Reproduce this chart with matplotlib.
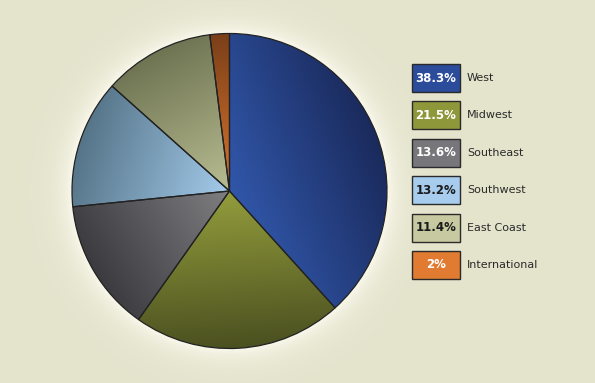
import numpy as np
import matplotlib.pyplot as plt
from matplotlib.colors import LinearSegmentedColormap, to_rgb

# data
regions = ["West", "Midwest", "Southeast", "Southwest", "East Coast", "International"]
shares = [38.3, 21.5, 13.6, 13.2, 11.4, 2.0]
share_labels = ["38.3%", "21.5%", "13.6%", "13.2%", "11.4%", "2%"]

# slice colours: light (near centre) -> dark (rim)
light = ["#3157aa", "#939d3c", "#7f7f82", "#a4cbeb", "#b9bd92", "#d9752e"]
dark = ["#1a2a5c", "#4b5020", "#3b3b40", "#557488", "#6e7452", "#7a3f18"]
box_col = ["#2b4b9b", "#8e983a", "#77777b", "#a7ccee", "#c7caa0", "#e07b31"]
box_txt = ["white", "white", "white", "#1a1a1a", "#1a1a1a", "white"]

bg = "#e4e3cc"
W, H = 595, 383
cx, cy, R = 229.5, 192.0, 157.5

fig = plt.figure(figsize=(W / 100, H / 100), dpi=100, facecolor=bg)
ax = fig.add_axes([0, 0, 1, 1])
ax.set_xlim(0, W)
ax.set_ylim(0, H)
ax.set_aspect("auto")
ax.axis("off")

# soft glow around the pie
gx, gy = np.meshgrid(np.linspace(0, W, W), np.linspace(0, H, H))
d = np.hypot(gx - cx, gy - cy) - R
glow = np.clip(np.exp(-np.clip(d, 0, None) / 14.0), 0, 1)
glow_img = np.zeros((H, W, 4))
glow_img[..., :3] = to_rgb("#fbfaee")
glow_img[..., 3] = glow * 0.95
ax.imshow(glow_img, extent=(0, W, 0, H), origin="lower", zorder=0, interpolation="bilinear")

wedges, _ = ax.pie(shares, center=(cx, cy), radius=R, startangle=90, counterclock=False,
                   wedgeprops=dict(edgecolor="#222222", linewidth=0.9), frame=True)
ax.set_xlim(0, W)
ax.set_ylim(0, H)
ax.axis("off")

# gradient fill per slice
x0, x1, y0, y1 = cx - R, cx + R, cy - R, cy + R
px, py = np.meshgrid(np.linspace(x0, x1, 400), np.linspace(y0, y1, 400))
for w, lc, dc in zip(wedges, light, dark):
    mid = np.deg2rad((w.theta1 + w.theta2) / 2)
    t = ((px - cx) * np.cos(mid) + (py - cy) * np.sin(mid)) / R
    t = np.clip(t, 0, 1)
    cmap = LinearSegmentedColormap.from_list("g", [lc, dc])
    w.set_facecolor("none")
    im = ax.imshow(t, cmap=cmap, vmin=0, vmax=1, extent=(x0, x1, y0, y1), origin="lower",
                   zorder=1, interpolation="bilinear")
    im.set_clip_path(w)
    w.set_zorder(2)

# legend
bx, bw, bh = 412, 48, 28
top = H - 64
step = 37.4
for i, (name, lab) in enumerate(zip(regions, share_labels)):
    yb = top - i * step - bh
    ax.add_patch(plt.Rectangle((bx, yb), bw, bh, facecolor=box_col[i], edgecolor="#2a2a2a",
                               linewidth=1.0, zorder=3))
    ax.text(bx + bw / 2, yb + bh / 2, lab, ha="center", va="center", color=box_txt[i],
            fontsize=8.5, fontweight="bold", family="DejaVu Sans", zorder=4)
    ax.text(bx + bw + 7, yb + bh / 2, name, ha="left", va="center", color="#2a2a2a",
            fontsize=8, family="DejaVu Sans", zorder=4)

fig.savefig("out.png", dpi=100, facecolor=bg)
